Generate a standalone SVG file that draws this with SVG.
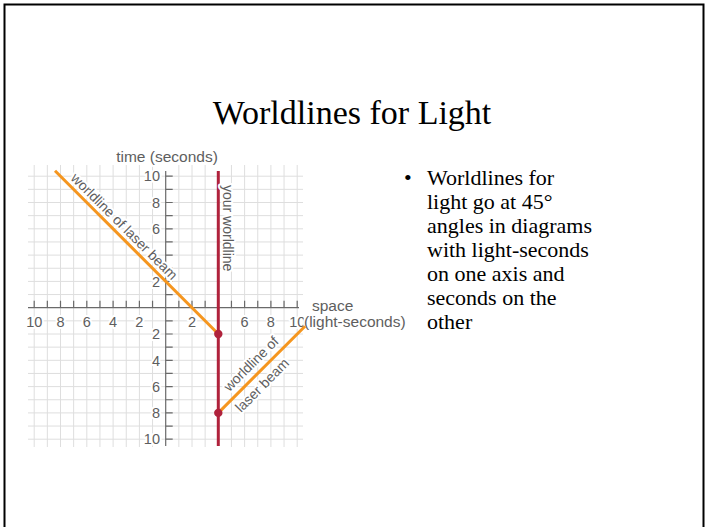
<svg xmlns="http://www.w3.org/2000/svg" width="705" height="527" viewBox="0 0 705 527">
<style>
.grid{stroke:#dedede;stroke-width:1;fill:none}
.axis{stroke:#6a6a6a;stroke-width:1.2;fill:none}
.lbl{font-family:"Liberation Sans",Arial,sans-serif;font-size:14px;fill:#5e5e5e;paint-order:stroke;stroke:#fff;stroke-width:4;stroke-linejoin:round}
.big{font-size:15.5px}
.num{text-anchor:middle;font-size:14.5px}
.ynum{text-anchor:end;font-size:14.5px}
.laser{stroke:#f5961f;stroke-width:3;fill:none}
.you{stroke:#b0223c;stroke-width:3;fill:none}
.dot{fill:#b0223c}
.serif{font-family:"Liberation Serif","Times New Roman",serif;fill:#000}
</style>
<rect width="705" height="527" fill="#fff"/>
<g id="frame"><path d="M4.5 527V4.5H703.5V527" stroke="#000" stroke-width="2" fill="none"/></g>
<g id="title"><text class="serif" x="352" y="124" font-size="34" text-anchor="middle">Worldlines for Light</text></g>
<g id="grid">
<path class="grid" d="M34.2 165V447M47.35 165V447M60.5 165V447M73.65 165V447M86.8 165V447M99.95 165V447M113.1 165V447M126.25 165V447M139.4 165V447M152.55 165V447M178.85 165V447M192 165V447M205.15 165V447M231.45 165V447M244.6 165V447M257.75 165V447M270.9 165V447M284.05 165V447M297.2 165V447
M28 176.2H303M28 189.35H303M28 202.5H303M28 215.65H303M28 228.8H303M28 241.95H303M28 255.1H303M28 268.25H303M28 281.4H303M28 294.55H303M28 320.85H303M28 334H303M28 347.15H303M28 360.3H303M28 373.45H303M28 386.6H303M28 399.75H303M28 412.9H303M28 426.05H303M28 439.2H303"/>
</g>
<g id="axes">
<path class="axis" d="M28 307.7H299M165.7 171V446"/>
<path class="axis" d="M34.2 300.7V307.7M47.35 300.7V307.7M60.5 300.7V307.7M73.65 300.7V307.7M86.8 300.7V307.7M99.95 300.7V307.7M113.1 300.7V307.7M126.25 300.7V307.7M139.4 300.7V307.7M152.55 300.7V307.7M178.85 300.7V307.7M192 300.7V307.7M205.15 300.7V307.7M218.3 300.7V307.7M231.45 300.7V307.7M244.6 300.7V307.7M257.75 300.7V307.7M270.9 300.7V307.7M284.05 300.7V307.7M297.2 300.7V307.7
M165.7 176.2H172.7M165.7 189.35H172.7M165.7 202.5H172.7M165.7 215.65H172.7M165.7 228.8H172.7M165.7 241.95H172.7M165.7 255.1H172.7M165.7 268.25H172.7M165.7 281.4H172.7M165.7 294.55H172.7M165.7 320.85H172.7M165.7 334H172.7M165.7 347.15H172.7M165.7 360.3H172.7M165.7 373.45H172.7M165.7 386.6H172.7M165.7 399.75H172.7M165.7 412.9H172.7M165.7 426.05H172.7M165.7 439.2H172.7"/>
</g>
<g id="axis-labels">
<text class="lbl num" x="34.2" y="326.5">10</text>
<text class="lbl num" x="60.5" y="326.5">8</text>
<text class="lbl num" x="86.8" y="326.5">6</text>
<text class="lbl num" x="113.1" y="326.5">4</text>
<text class="lbl num" x="139.4" y="326.5">2</text>
<text class="lbl num" x="192" y="326.5">2</text>
<text class="lbl num" x="244.6" y="326.5">6</text>
<text class="lbl num" x="270.9" y="326.5">8</text>
<text class="lbl num" x="297.2" y="326.5">10</text>
<text class="lbl ynum" x="160" y="181.4">10</text>
<text class="lbl ynum" x="160" y="207.7">8</text>
<text class="lbl ynum" x="160" y="234">6</text>
<text class="lbl ynum" x="160" y="286.6">2</text>
<text class="lbl ynum" x="160" y="339.2">2</text>
<text class="lbl ynum" x="160" y="365.5">4</text>
<text class="lbl ynum" x="160" y="391.8">6</text>
<text class="lbl ynum" x="160" y="418.1">8</text>
<text class="lbl ynum" x="160" y="444.4">10</text>
<text class="lbl big" x="167" y="162" text-anchor="middle">time (seconds)</text>
<text class="lbl big" x="312" y="311">space</text>
<text class="lbl big" x="304" y="326.5">(light-seconds)</text>
</g>
<g id="your-worldline">
<line class="you" x1="218.3" y1="171" x2="218.3" y2="446"/>
<text class="lbl" transform="translate(223 185) rotate(90)">your worldline</text>
</g>
<g id="laser-beam-1">
<line class="laser" x1="55" y1="170.8" x2="218.3" y2="334"/>
<text class="lbl" transform="translate(70 179) rotate(45)">worldline of laser beam</text>
</g>
<g id="laser-beam-2">
<line class="laser" x1="218.3" y1="412.9" x2="305" y2="326.2"/>
<text class="lbl" text-anchor="middle" transform="translate(254.5 367.2) rotate(-45)">worldline of</text>
<text class="lbl" text-anchor="middle" transform="translate(265.5 388.6) rotate(-45)">laser beam</text>
</g>
<g id="events">
<circle class="dot" cx="218.3" cy="334" r="4.2"/>
<circle class="dot" cx="218.3" cy="412.9" r="4.2"/>
</g>
<g id="bullet" class="serif" font-size="22">
<text x="404" y="185">•</text>
<text x="427" y="185">Worldlines for</text>
<text x="427" y="209">light go at 45°</text>
<text x="427" y="233">angles in diagrams</text>
<text x="427" y="257">with light-seconds</text>
<text x="427" y="281">on one axis and</text>
<text x="427" y="305">seconds on the</text>
<text x="427" y="329">other</text>
</g>
</svg>
